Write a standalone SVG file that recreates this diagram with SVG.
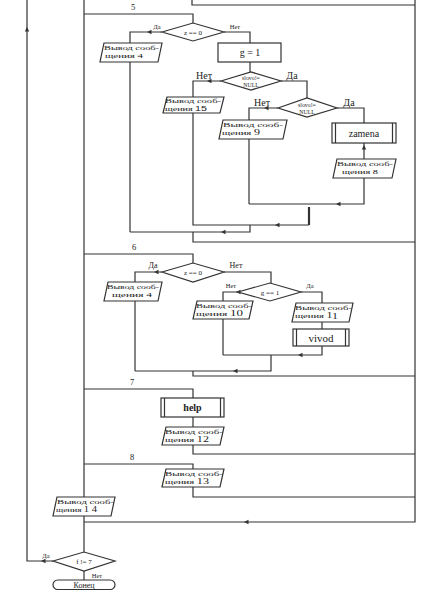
<svg xmlns="http://www.w3.org/2000/svg" xmlns:xlink="http://www.w3.org/1999/xlink" width="429" height="591" viewBox="0 0 429 591">
<style>
.ln{fill:none;stroke:#333;stroke-width:1.2}
.sh{fill:#fff;stroke:#333;stroke-width:1.2}
.t{font-family:"Liberation Serif","Times New Roman",serif;fill:#222}
.bt{font-size:6.6px}
.lb{font-size:7px}
.lbb{font-size:10px}
.cs{font-size:8.5px}
.mid{text-anchor:middle}
</style>
<defs>
<path id="al" d="M0,0 L4.5,-2.2 L4.5,2.2 Z" fill="#333"/>
</defs>
<rect width="429" height="591" fill="#fff"/>
<g id="connectors">
<path class="ln" d="M192,0 V5 H415"/>
<path class="ln" d="M415,0 V522 H84"/>
<path class="ln" d="M84,0 V497"/>
<path class="ln" d="M84,14 H193 V23"/>
<path class="ln" d="M84,254 H193 V263"/>
<path class="ln" d="M84,389 H193 V398"/>
<path class="ln" d="M84,464 H193 V469"/>
<path class="ln" d="M162,32 H130 V43"/>
<path class="ln" d="M224,32 H250 V43"/>
<path class="ln" d="M250,62 V72"/>
<path class="ln" d="M221,81 H193 V97"/>
<path class="ln" d="M281,81 H307 V98"/>
<path class="ln" d="M278,108 H249 V120"/>
<path class="ln" d="M337,108 H364 V123"/>
<path class="ln" d="M364,143 V159"/>
<path class="ln" d="M364,178 V204 H249"/>
<path class="ln" d="M249,139 V204"/>
<path class="ln" d="M309,207 V225" style="stroke-width:2.2"/>
<path class="ln" d="M193,113 V225 H309"/>
<path class="ln" d="M250,225 V232 H130"/>
<path class="ln" d="M130,62 V232"/>
<path class="ln" d="M193,232 V242 H415"/>
<path class="ln" d="M162,272 H135 V282"/>
<path class="ln" d="M224,272 H271 V283"/>
<path class="ln" d="M238,292 H223 V301"/>
<path class="ln" d="M301,292 H322 V303"/>
<path class="ln" d="M322,322 V329"/>
<path class="ln" d="M322,346 V355 H223"/>
<path class="ln" d="M223,319 V355"/>
<path class="ln" d="M271,355 V371 H135"/>
<path class="ln" d="M135,301 V371"/>
<path class="ln" d="M193,371 V376 H415"/>
<path class="ln" d="M193,417 V427"/>
<path class="ln" d="M193,445 V454 H415"/>
<path class="ln" d="M193,487 V497 H415"/>
<path class="ln" d="M84,516 V552"/>
<path class="ln" d="M53,561 H27 V0"/>
<path class="ln" d="M84,571 V580"/>
<use xlink:href="#al" transform="translate(147,32)"/>
<use xlink:href="#al" transform="translate(207,81)"/>
<use xlink:href="#al" transform="translate(264,108)"/>
<use xlink:href="#al" transform="translate(336,204)"/>
<use xlink:href="#al" transform="translate(275,225)"/>
<use xlink:href="#al" transform="translate(221,232)"/>
<use xlink:href="#al" transform="translate(364,145) rotate(90)"/>
<use xlink:href="#al" transform="translate(154,272)"/>
<use xlink:href="#al" transform="translate(236,292)"/>
<use xlink:href="#al" transform="translate(298,355)"/>
<use xlink:href="#al" transform="translate(233,371)"/>
<use xlink:href="#al" transform="translate(244,522)"/>
<use xlink:href="#al" transform="translate(41,561)"/>
<use xlink:href="#al" transform="translate(27,27) rotate(90)"/>
</g>
<g id="lbl-cases" class="t cs">
<text x="131" y="10">5</text>
<text x="132" y="250">6</text>
<text x="130" y="385">7</text>
<text x="130" y="460">8</text>
</g>
<g id="d5">
<polygon class="sh" points="162,32 193,23 224,32 193,41"/>
<text class="t lb mid" x="193" y="34.5">z == 0</text>
<text class="t mid" x="157" y="29" style="font-size:6.5px">Да</text>
<text class="t mid" x="235" y="29" style="font-size:6.5px">Нет</text>
</g>
<g id="b4a">
<polygon class="sh" points="104,43 162,43 158,62 100,62"/>
<text class="t bt" x="104" y="49.5" textLength="55" lengthAdjust="spacingAndGlyphs">Вывод сооб-</text>
<text class="t bt" x="105" y="58" textLength="38" lengthAdjust="spacingAndGlyphs">щения 4</text>
</g>
<g id="g1">
<rect class="sh" x="218" y="43" width="63" height="19"/>
<text class="t mid" x="250" y="56" style="font-size:10px">g = 1</text>
</g>
<g id="d1">
<polygon class="sh" points="221,81 251,72 281,81 251,90"/>
<text class="t mid" x="251" y="80" style="font-size:5.8px">slovo!=</text>
<text class="t mid" x="251" y="87" style="font-size:5.8px">NULL</text>
<text class="t lbb mid" x="204" y="79">Нет</text>
<text class="t lbb mid" x="292" y="79">Да</text>
</g>
<g id="b15">
<polygon class="sh" points="167,97 224,97 220,113 163,113"/>
<text class="t bt" x="165" y="103" textLength="56" lengthAdjust="spacingAndGlyphs">Вывод сооб-</text>
<text class="t bt" x="165" y="111" textLength="42" lengthAdjust="spacingAndGlyphs">щения <tspan style="font-family:'Liberation Sans',Arial,sans-serif;font-size:7px">15</tspan></text>
</g>
<g id="d2">
<polygon class="sh" points="278,108 307,98 337,108 307,117"/>
<text class="t mid" x="307" y="107" style="font-size:5.8px">slovo!=</text>
<text class="t mid" x="307" y="114" style="font-size:5.8px">NULL</text>
<text class="t lbb mid" x="262" y="106">Нет</text>
<text class="t lbb mid" x="349" y="106">Да</text>
</g>
<g id="b9">
<polygon class="sh" points="223,120 287,120 283,139 219,139"/>
<text class="t bt" x="223" y="126.5" textLength="60" lengthAdjust="spacingAndGlyphs">Вывод сооб-</text>
<text class="t bt" x="222" y="135" textLength="38" lengthAdjust="spacingAndGlyphs">щения <tspan style="font-size:7.5px">9</tspan></text>
</g>
<g id="zamena">
<rect class="sh" x="332" y="123" width="64" height="20"/>
<path class="ln" d="M335.5,123 V143 M392.5,123 V143"/>
<text class="t mid" x="364" y="137" style="font-size:10px">zamena</text>
</g>
<g id="b8">
<polygon class="sh" points="337,159 396,159 392,178 333,178"/>
<text class="t bt" x="337" y="165.5" textLength="56" lengthAdjust="spacingAndGlyphs">Вывод сооб-</text>
<text class="t bt" x="342" y="174" textLength="36" lengthAdjust="spacingAndGlyphs">щения 8</text>
</g>
<g id="d6">
<polygon class="sh" points="162,272 193,263 224,272 193,282"/>
<text class="t lb mid" x="193" y="274.5">z == 0</text>
<text class="t mid" x="153" y="268" style="font-size:8px">Да</text>
<text class="t mid" x="236" y="268" style="font-size:8px">Нет</text>
</g>
<g id="b4b">
<polygon class="sh" points="108,282 162,282 158,301 104,301"/>
<text class="t bt" x="107" y="288.5" textLength="52" lengthAdjust="spacingAndGlyphs">Вывод сооб-</text>
<text class="t bt" x="112" y="297" textLength="40" lengthAdjust="spacingAndGlyphs">щения 4</text>
</g>
<g id="dg">
<polygon class="sh" points="238,292 270,283 301,292 270,301"/>
<text class="t lb mid" x="270" y="294.5">g == 1</text>
<text class="t mid" x="231" y="288" style="font-size:6.5px">Нет</text>
<text class="t mid" x="310" y="288" style="font-size:6.5px">Да</text>
</g>
<g id="b10">
<polygon class="sh" points="197,301 253,301 249,319 193,319"/>
<text class="t bt" x="196" y="307.5" textLength="56" lengthAdjust="spacingAndGlyphs">Вывод сооб-</text>
<text class="t bt" x="196" y="316" textLength="47" lengthAdjust="spacingAndGlyphs">щения <tspan style="font-size:7.5px">10</tspan></text>
</g>
<g id="b11">
<polygon class="sh" points="296,303 353,303 349,322 292,322"/>
<text class="t bt" x="295" y="309.5" textLength="57" lengthAdjust="spacingAndGlyphs">Вывод сооб-</text>
<text class="t bt" x="295" y="318" textLength="43" lengthAdjust="spacingAndGlyphs">щения <tspan style="font-size:7.5px">1</tspan><tspan style="font-size:7.5px" dy="1">1</tspan></text>
</g>
<g id="vivod">
<rect class="sh" x="293" y="329" width="56" height="17"/>
<path class="ln" d="M296.5,329 V346 M345.5,329 V346"/>
<text class="t mid" x="321" y="341.5" style="font-size:11px">vivod</text>
</g>
<g id="help">
<rect class="sh" x="161" y="398" width="63" height="19"/>
<path class="ln" d="M164.5,398 V417 M220.5,398 V417"/>
<text class="t mid" x="192.5" y="411" style="font-size:10px;font-weight:bold">help</text>
</g>
<g id="b12">
<polygon class="sh" points="166,427 224,427 220,445 162,445"/>
<text class="t bt" x="165" y="433.5" textLength="58" lengthAdjust="spacingAndGlyphs">Вывод сооб-</text>
<text class="t bt" x="165" y="442" textLength="44" lengthAdjust="spacingAndGlyphs">щения <tspan style="font-size:7.5px">12</tspan></text>
</g>
<g id="b13">
<polygon class="sh" points="166,469 224,469 220,487 162,487"/>
<text class="t bt" x="165" y="475.5" textLength="58" lengthAdjust="spacingAndGlyphs">Вывод сооб-</text>
<text class="t bt" x="165" y="484" textLength="44" lengthAdjust="spacingAndGlyphs">щения <tspan style="font-size:7.5px">13</tspan></text>
</g>
<g id="b14">
<polygon class="sh" points="57,497 115,497 111,516 53,516"/>
<text class="t bt" x="57" y="503.5" textLength="57" lengthAdjust="spacingAndGlyphs">Вывод сооб-</text>
<text class="t bt" x="56" y="512" textLength="41" lengthAdjust="spacingAndGlyphs">щения <tspan style="font-size:7.5px">1 4</tspan></text>
</g>
<g id="df">
<polygon class="sh" points="53,561 84,552 115,561 84,571"/>
<text class="t lb mid" x="84" y="563.5">f != 7</text>
<text class="t mid" x="46" y="558" style="font-size:6.5px">Да</text>
<text class="t mid" x="97" y="578" style="font-size:6.5px">Нет</text>
</g>
<g id="end">
<rect class="sh" x="53" y="580" width="62" height="9.5" rx="4.75"/>
<text class="t mid" x="84" y="587.8" style="font-size:8px">Конец</text>
</g>
</svg>
